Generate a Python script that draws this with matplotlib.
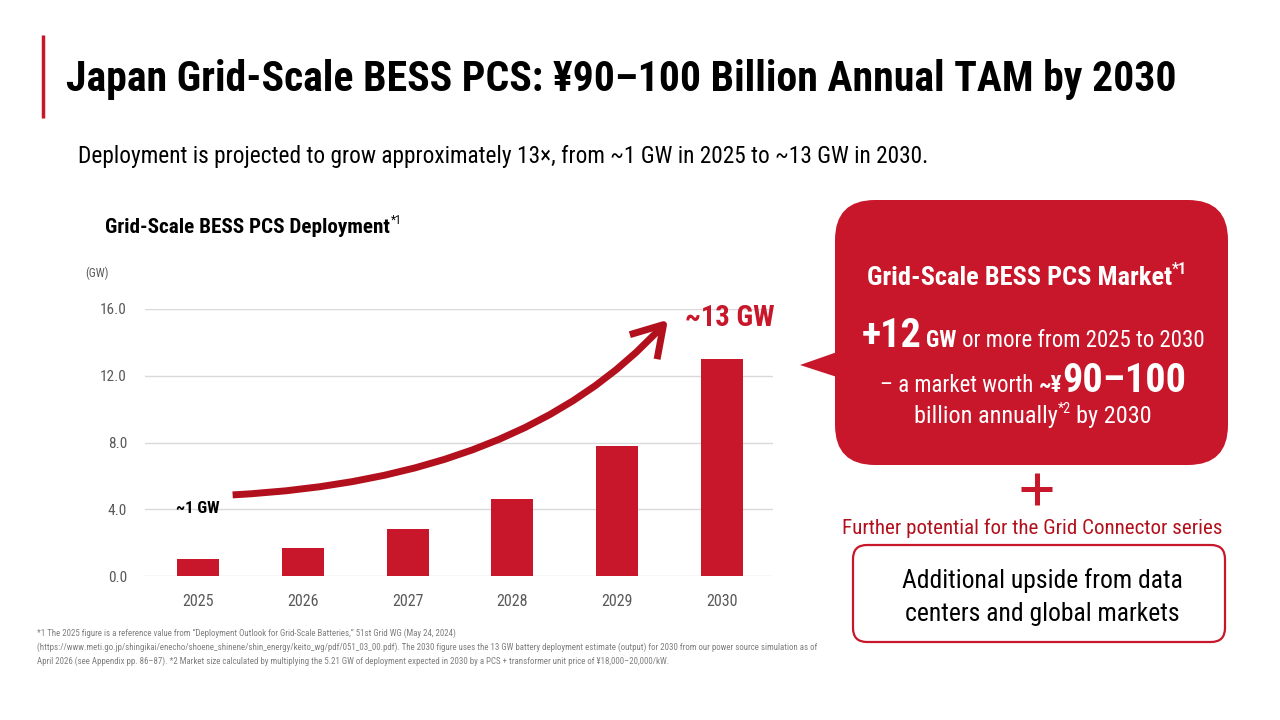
import matplotlib
matplotlib.use("Agg")
import matplotlib.pyplot as plt
from matplotlib import font_manager
from matplotlib.patches import FancyBboxPatch, Polygon

# ---- data ----
years = ["2025", "2026", "2027", "2028", "2029", "2030"]
deployment_gw = [1.0, 1.7, 2.8, 4.6, 7.8, 13.0]
y_ticks = [0.0, 4.0, 8.0, 12.0, 16.0]

title = "Japan Grid-Scale BESS PCS: ¥90–100 Billion Annual TAM by 2030"
subtitle = "Deployment is projected to grow approximately 13×, from ~1 GW in 2025 to ~13 GW in 2030."
chart_title = "Grid-Scale BESS PCS Deployment"
footnotes = [
    "*1 The 2025 figure is a reference value from \u201cDeployment Outlook for Grid-Scale Batteries,\u201d 51st Grid WG (May 24, 2024)",
    "(https://www.meti.go.jp/shingikai/enecho/shoene_shinene/shin_energy/keito_wg/pdf/051_03_00.pdf). The 2030 figure uses the 13 GW battery deployment estimate (output) for 2030 from our power source simulation as of",
    "April 2026 (see Appendix pp. 86\u201387). *2 Market size calculated by multiplying the 5.21 GW of deployment expected in 2030 by a PCS + transformer unit price of ¥18,000\u201320,000/kW.",
]

RED = "#C8172A"
DARK_RED = "#B3101E"
GRAY = "#595959"


def pick_font():
    fl = font_manager.fontManager.ttflist
    for name in ["Roboto Condensed", "Liberation Sans Narrow", "Open Sans Condensed"]:
        if any(f.name == name for f in fl):
            return name, "normal"
    for name in ["Noto Sans", "Open Sans", "DejaVu Sans", "Roboto"]:
        if any(f.name == name and f.stretch == "condensed" for f in fl):
            return name, "condensed"
    return "Liberation Sans", "normal"


FONT, STRETCH = pick_font()
plt.rcParams["font.family"] = [FONT, "DejaVu Sans"]
plt.rcParams["font.stretch"] = STRETCH

fig = plt.figure(figsize=(12.8, 7.2), dpi=100)
renderer = fig.canvas.get_renderer()

# overlay axes in pixel coordinates (drawn above the chart)
ov = fig.add_axes([0, 0, 1, 1])
ov.set_xlim(0, 1280)
ov.set_ylim(720, 0)
ov.axis("off")
ov.set_zorder(2)


def width_of(t):
    return t.get_window_extent(renderer).width


def fit(t, target):
    t.set_fontsize(t.get_fontsize() * target / width_of(t))
    return t


def runs_line(cx, y, runs, target, color="white"):
    # runs: (text, size, weight, rise_em, space_before)
    arts = []
    for text, size, weight, rise, sp in runs:
        arts.append(ov.text(0, y, text, fontsize=size, weight=weight, color=color,
                            va="baseline", ha="left"))

    def layout():
        ws = []
        for a, (text, size, weight, rise, sp) in zip(arts, runs):
            probe = ov.text(0, 0, "x x", fontsize=a.get_fontsize(), weight=weight)
            probe2 = ov.text(0, 0, "xx", fontsize=a.get_fontsize(), weight=weight)
            gap = width_of(probe) - width_of(probe2)
            probe.remove()
            probe2.remove()
            ws.append((gap if sp else 0.0) + width_of(a))
        return ws

    ws = layout()
    scale = target / sum(ws)
    for a in arts:
        a.set_fontsize(a.get_fontsize() * scale)
    ws = layout()
    x = cx - sum(ws) / 2
    for a, w, (text, size, weight, rise, sp) in zip(arts, ws, runs):
        x += w - width_of(a)
        a.set_x(x)
        a.set_y(y - rise * a.get_fontsize() * 100 / 72 * 1.6)
        x += width_of(a)
    return arts


# ---- header ----
ov.plot([43, 43], [35, 118], color=RED, lw=2.5, solid_capstyle="butt")
t = ov.text(66, 91, title, fontsize=34, weight="bold", va="baseline", color="black")
fit(t, 1112)
t = ov.text(78, 163, subtitle, fontsize=17, va="baseline", color="black")
fit(t, 852)

# chart title with superscript
ct = ov.text(105, 233, chart_title, fontsize=13, weight="bold", va="baseline")
fit(ct, 283)
ov.text(105 + width_of(ct) + 1, 224, "*1", fontsize=8.5, va="baseline")
ov.text(97, 277, "(GW)", fontsize=8.5, color=GRAY, ha="center", va="baseline")

# ---- bar chart ----
ax = fig.add_axes([145 / 1280, (720 - 576) / 720, (773 - 145) / 1280, (576 - 309) / 720])
ax.set_zorder(1)
ax.patch.set_alpha(0)
xs = list(range(len(years)))
ax.bar(xs, deployment_gw, width=0.4, color=RED, zorder=3)
ax.set_xlim(-0.506, 5.487)
ax.set_ylim(0, 16)
ax.set_yticks(y_ticks)
ax.set_yticklabels([f"{v:.1f}" for v in y_ticks])
ax.set_xticks(xs)
ax.set_xticklabels(years)
ax.yaxis.grid(True, color="#D9D9D9", lw=1, zorder=0)
ax.set_axisbelow(True)
for s in ax.spines.values():
    s.set_visible(False)
ax.tick_params(axis="y", length=0, pad=13, labelsize=11, labelcolor=GRAY)
ax.tick_params(axis="x", length=0, pad=13, labelsize=11.5, labelcolor=GRAY)

# growth arrow
ax.annotate("", xy=(4.485, 15.36), xytext=(0.33, 4.86), annotation_clip=False,
            arrowprops=dict(arrowstyle="->,head_length=0.9,head_width=0.55",
                            lw=5, color=DARK_RED, mutation_scale=24,
                            connectionstyle="angle3,angleA=3,angleB=48",
                            shrinkA=0, shrinkB=0, capstyle="butt"))
t = ov.text(730, 326, "~13 GW", fontsize=24, weight="bold", color=RED, ha="center", va="baseline")
fit(t, 90)
ov.text(198, 513, "~1 GW", fontsize=12, weight="bold", color="black", ha="center", va="baseline")

# ---- callout ----
box = FancyBboxPatch((835 + 40, 200 + 40), 393 - 80, 265 - 80,
                     boxstyle="round,pad=40,rounding_size=40",
                     fc=RED, ec="none", mutation_aspect=1)
ov.add_patch(box)
ov.add_patch(Polygon([(800, 365), (840, 351), (840, 378)], closed=True, fc=RED, ec="none"))

runs_line(1027, 285, [("Grid-Scale BESS PCS Market", 17, "bold", 0, False),
                      ("*1", 10, "bold", 0.45, False)], 320)
runs_line(1033, 347, [("+12", 30, "bold", 0, False),
                      ("GW", 17, "bold", 0, True),
                      ("or more from 2025 to 2030", 17, "normal", 0, True)], 343)
runs_line(1033, 392, [("\u2013 a market worth", 17, "normal", 0, False),
                      ("~¥", 17, "bold", 0, True),
                      ("90\u2013100", 30, "bold", 0, False)], 306)
runs_line(1033, 423, [("billion annually", 17, "normal", 0, False),
                      ("*2", 10, "normal", 0.45, False),
                      ("by 2030", 17, "normal", 0, True)], 238)

# plus sign
ov.plot([1021, 1052], [489, 489], color=RED, lw=3.6, solid_capstyle="butt")
ov.plot([1036.5, 1036.5], [473, 505], color=RED, lw=3.6, solid_capstyle="butt")

t = ov.text(1032, 534, "Further potential for the Grid Connector series", fontsize=14,
            color=DARK_RED, ha="center", va="baseline")
fit(t, 384)

ubox = FancyBboxPatch((853 + 14, 545 + 14), 372 - 28, 97 - 28,
                      boxstyle="round,pad=14,rounding_size=14",
                      fc="white", ec=RED, lw=1.6)
ov.add_patch(ubox)
t1 = ov.text(1042, 588, "Additional upside from data", fontsize=19, ha="center", va="baseline")
fit(t1, 281)
ov.text(1042, 621, "centers and global markets", fontsize=t1.get_fontsize(), ha="center", va="baseline")

# ---- footnotes ----
fn_y = [636, 650, 664]
for txt, yy in zip(footnotes, fn_y):
    ov.text(37, yy, txt, fontsize=6, color="#7F7F7F", va="baseline")
fit(ov.texts[-2], 783)
for tt in ov.texts[-3:]:
    tt.set_fontsize(ov.texts[-2].get_fontsize())

fig.savefig("out.png", dpi=100)
